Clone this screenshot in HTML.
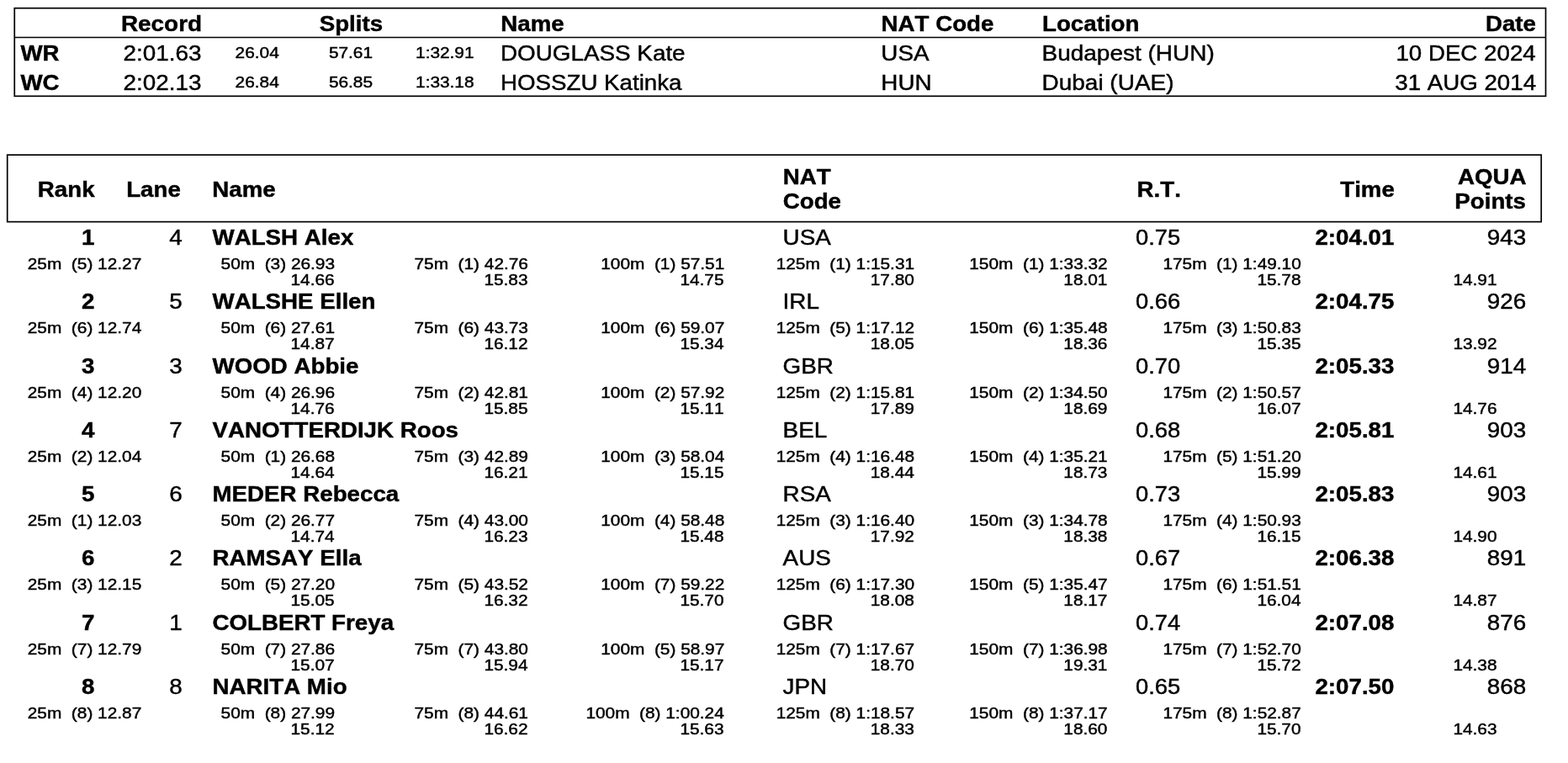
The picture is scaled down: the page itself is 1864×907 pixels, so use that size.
<!DOCTYPE html>
<html lang="en">
<head>
<meta charset="utf-8">
<title>Results</title>
<style>
html,body{margin:0;padding:0;background:#fff}
body{width:1864px;height:907px;position:relative;overflow:hidden;font-family:"Liberation Sans",sans-serif;color:#000}
section{position:absolute;left:0;top:0;width:1864px;height:907px}
.t{position:absolute;white-space:pre;line-height:1;margin:0;padding:0;font-kerning:none;font-variant-ligatures:none;transform-origin:0 0}
.r{transform-origin:100% 0}
.rules{position:absolute;left:0;top:0;display:block}
.hb{font-size:25.2px;font-weight:700;-webkit-text-stroke:0.42px #000}
.b{font-size:25.2px;font-weight:700;-webkit-text-stroke:0.42px #000}
.n{font-size:25.0px;font-weight:400;-webkit-text-stroke:0.42px #000}
.m{font-size:18.6px;font-weight:400;-webkit-text-stroke:0.45px #000}
.s{font-size:18.6px;font-weight:400;-webkit-text-stroke:0.45px #000}
</style>
</head>
<body>
<section class="records">
<svg class="rules" width="1864" height="130" viewBox="0 0 1864 130" aria-hidden="true"><rect x="17.25" y="9.7" width="1820.25" height="104.6" fill="none" stroke="#000" stroke-width="1.7"/><line x1="17.25" y1="44.5" x2="1837.5" y2="44.5" stroke="#000" stroke-width="1.5"/></svg>
<span class="t hb r" style="right:1623px;top:16px;transform:translateX(-0.70px) scaleX(1.108)">Record</span>
<span class="t hb" style="left:379px;top:16px;transform:translateX(0.70px) scaleX(1.1)">Splits</span>
<span class="t hb" style="left:595px;top:16px;transform:translateX(0.30px) scaleX(1.1)">Name</span>
<span class="t hb" style="left:1047px;top:16px;transform:translateX(0.50px) scaleX(1.1)">NAT Code</span>
<span class="t hb" style="left:1239px;top:16px;transform:translateX(0.00px) scaleX(1.1)">Location</span>
<span class="t hb r" style="right:37px;top:16px;transform:translateX(-0.60px) scaleX(1.1)">Date</span>
<div class="rec">
<span class="t b" style="left:24px;top:51px;transform:translateX(0.40px) scaleX(1.1)">WR</span>
<span class="t n r" style="right:1625px;top:51px;transform:translateX(-0.00px) scaleX(1.113)">2:01.63</span>
<span class="t m r" style="right:1531px;top:54px;transform:translateX(-0.80px) scaleX(1.12)">26.04</span>
<span class="t m r" style="right:1420px;top:54px;transform:translateX(-0.50px) scaleX(1.12)">57.61</span>
<span class="t m r" style="right:1300px;top:54px;transform:translateX(-0.50px) scaleX(1.12)">1:32.91</span>
<span class="t n" style="left:595px;top:51px;transform:translateX(0.00px) scaleX(1.113)">DOUGLASS Kate</span>
<span class="t n" style="left:1047px;top:51px;transform:translateX(0.30px) scaleX(1.113)">USA</span>
<span class="t n" style="left:1238px;top:51px;transform:translateX(0.50px) scaleX(1.119)">Budapest (HUN)</span>
<span class="t n r" style="right:38px;top:51px;transform:translateX(-0.40px) scaleX(1.108)">10 DEC 2024</span>
</div>
<div class="rec">
<span class="t b" style="left:24px;top:86px;transform:translateX(0.40px) scaleX(1.1)">WC</span>
<span class="t n r" style="right:1625px;top:86px;transform:translateX(-0.00px) scaleX(1.113)">2:02.13</span>
<span class="t m r" style="right:1531px;top:89px;transform:translateX(-0.80px) scaleX(1.12)">26.84</span>
<span class="t m r" style="right:1420px;top:89px;transform:translateX(-0.50px) scaleX(1.12)">56.85</span>
<span class="t m r" style="right:1300px;top:89px;transform:translateX(-0.50px) scaleX(1.12)">1:33.18</span>
<span class="t n" style="left:595px;top:86px;transform:translateX(0.00px) scaleX(1.108)">HOSSZU Katinka</span>
<span class="t n" style="left:1047px;top:86px;transform:translateX(0.30px) scaleX(1.113)">HUN</span>
<span class="t n" style="left:1238px;top:86px;transform:translateX(0.50px) scaleX(1.119)">Dubai (UAE)</span>
<span class="t n r" style="right:38px;top:86px;transform:translateX(-0.40px) scaleX(1.108)">31 AUG 2014</span>
</div>
</section>
<section class="results">
<svg class="rules" width="1864" height="280" viewBox="0 0 1864 280" aria-hidden="true"><rect x="8.7" y="184.15" width="1823.5" height="79.5" fill="none" stroke="#000" stroke-width="1.7"/></svg>
<span class="t hb" style="left:44px;top:213px;transform:translateX(0.80px) scaleX(1.1)">Rank</span>
<span class="t hb" style="left:150px;top:213px;transform:translateX(0.20px) scaleX(1.1)">Lane</span>
<span class="t hb" style="left:252px;top:213px;transform:translateX(0.30px) scaleX(1.1)">Name</span>
<span class="t hb" style="left:930px;top:198px;transform:translateX(0.70px) scaleX(1.1)">NAT</span>
<span class="t hb" style="left:930px;top:227px;transform:translateX(0.70px) scaleX(1.1)">Code</span>
<span class="t hb" style="left:1351px;top:213px;transform:translateX(0.60px) scaleX(1.1)">R.T.</span>
<span class="t hb r" style="right:205px;top:213px;transform:translateX(-0.90px) scaleX(1.1)">Time</span>
<span class="t hb r" style="right:49px;top:198px;transform:translateX(-0.70px) scaleX(1.1)">AQUA</span>
<span class="t hb r" style="right:50px;top:227px;transform:translateX(-0.00px) scaleX(1.1)">Points</span>
<div class="row">
<span class="t b r" style="right:1751px;top:270px;transform:translateX(-0.50px) scaleX(1.1)">1</span>
<span class="t n r" style="right:1647px;top:270px;transform:translateX(-0.20px) scaleX(1.113)">4</span>
<span class="t b" style="left:252px;top:270px;transform:translateX(0.50px) scaleX(1.1)">WALSH Alex</span>
<span class="t n" style="left:930px;top:270px;transform:translateX(0.60px) scaleX(1.113)">USA</span>
<span class="t n" style="left:1350px;top:270px;transform:translateX(0.00px) scaleX(1.095)">0.75</span>
<span class="t b r" style="right:207px;top:270px;transform:translateX(-0.00px) scaleX(1.1)">2:04.01</span>
<span class="t n r" style="right:49px;top:270px;transform:translateX(-0.50px) scaleX(1.113)">943</span>
<span class="t s r" style="right:1695px;top:305px;transform:translateX(-0.70px) scaleX(1.12)">25m  (5) 12.27</span>
<span class="t s r" style="right:1465px;top:305px;transform:translateX(-0.90px) scaleX(1.12)">50m  (3) 26.93</span>
<span class="t s r" style="right:1465px;top:324px;transform:translateX(-0.90px) scaleX(1.12)">14.66</span>
<span class="t s r" style="right:1236px;top:305px;transform:translateX(-0.00px) scaleX(1.12)">75m  (1) 42.76</span>
<span class="t s r" style="right:1236px;top:324px;transform:translateX(-0.00px) scaleX(1.12)">15.83</span>
<span class="t s r" style="right:1003px;top:305px;transform:translateX(-0.00px) scaleX(1.12)">100m  (1) 57.51</span>
<span class="t s r" style="right:1003px;top:324px;transform:translateX(-0.00px) scaleX(1.12)">14.75</span>
<span class="t s r" style="right:776px;top:305px;transform:translateX(-0.70px) scaleX(1.12)">125m  (1) 1:15.31</span>
<span class="t s r" style="right:776px;top:324px;transform:translateX(-0.70px) scaleX(1.12)">17.80</span>
<span class="t s r" style="right:547px;top:305px;transform:translateX(-0.10px) scaleX(1.12)">150m  (1) 1:33.32</span>
<span class="t s r" style="right:547px;top:324px;transform:translateX(-0.10px) scaleX(1.12)">18.01</span>
<span class="t s r" style="right:317px;top:305px;transform:translateX(-0.00px) scaleX(1.12)">175m  (1) 1:49.10</span>
<span class="t s r" style="right:317px;top:324px;transform:translateX(-0.00px) scaleX(1.12)">15.78</span>
<span class="t s r" style="right:84px;top:324px;transform:translateX(-0.00px) scaleX(1.12)">14.91</span>
</div>
<div class="row">
<span class="t b r" style="right:1751px;top:346px;transform:translateX(-0.50px) scaleX(1.1)">2</span>
<span class="t n r" style="right:1647px;top:346px;transform:translateX(-0.20px) scaleX(1.113)">5</span>
<span class="t b" style="left:252px;top:346px;transform:translateX(0.50px) scaleX(1.1)">WALSHE Ellen</span>
<span class="t n" style="left:930px;top:346px;transform:translateX(0.60px) scaleX(1.113)">IRL</span>
<span class="t n" style="left:1350px;top:346px;transform:translateX(0.00px) scaleX(1.095)">0.66</span>
<span class="t b r" style="right:207px;top:346px;transform:translateX(-0.00px) scaleX(1.1)">2:04.75</span>
<span class="t n r" style="right:49px;top:346px;transform:translateX(-0.50px) scaleX(1.113)">926</span>
<span class="t s r" style="right:1695px;top:381px;transform:translateX(-0.70px) scaleX(1.12)">25m  (6) 12.74</span>
<span class="t s r" style="right:1465px;top:381px;transform:translateX(-0.90px) scaleX(1.12)">50m  (6) 27.61</span>
<span class="t s r" style="right:1465px;top:400px;transform:translateX(-0.90px) scaleX(1.12)">14.87</span>
<span class="t s r" style="right:1236px;top:381px;transform:translateX(-0.00px) scaleX(1.12)">75m  (6) 43.73</span>
<span class="t s r" style="right:1236px;top:400px;transform:translateX(-0.00px) scaleX(1.12)">16.12</span>
<span class="t s r" style="right:1003px;top:381px;transform:translateX(-0.00px) scaleX(1.12)">100m  (6) 59.07</span>
<span class="t s r" style="right:1003px;top:400px;transform:translateX(-0.00px) scaleX(1.12)">15.34</span>
<span class="t s r" style="right:776px;top:381px;transform:translateX(-0.70px) scaleX(1.12)">125m  (5) 1:17.12</span>
<span class="t s r" style="right:776px;top:400px;transform:translateX(-0.70px) scaleX(1.12)">18.05</span>
<span class="t s r" style="right:547px;top:381px;transform:translateX(-0.10px) scaleX(1.12)">150m  (6) 1:35.48</span>
<span class="t s r" style="right:547px;top:400px;transform:translateX(-0.10px) scaleX(1.12)">18.36</span>
<span class="t s r" style="right:317px;top:381px;transform:translateX(-0.00px) scaleX(1.12)">175m  (3) 1:50.83</span>
<span class="t s r" style="right:317px;top:400px;transform:translateX(-0.00px) scaleX(1.12)">15.35</span>
<span class="t s r" style="right:84px;top:400px;transform:translateX(-0.00px) scaleX(1.12)">13.92</span>
</div>
<div class="row">
<span class="t b r" style="right:1751px;top:423px;transform:translateX(-0.50px) scaleX(1.1)">3</span>
<span class="t n r" style="right:1647px;top:423px;transform:translateX(-0.20px) scaleX(1.113)">3</span>
<span class="t b" style="left:252px;top:423px;transform:translateX(0.50px) scaleX(1.1)">WOOD Abbie</span>
<span class="t n" style="left:930px;top:423px;transform:translateX(0.60px) scaleX(1.113)">GBR</span>
<span class="t n" style="left:1350px;top:423px;transform:translateX(0.00px) scaleX(1.095)">0.70</span>
<span class="t b r" style="right:207px;top:423px;transform:translateX(-0.00px) scaleX(1.1)">2:05.33</span>
<span class="t n r" style="right:49px;top:423px;transform:translateX(-0.50px) scaleX(1.113)">914</span>
<span class="t s r" style="right:1695px;top:458px;transform:translateX(-0.70px) scaleX(1.12)">25m  (4) 12.20</span>
<span class="t s r" style="right:1465px;top:458px;transform:translateX(-0.90px) scaleX(1.12)">50m  (4) 26.96</span>
<span class="t s r" style="right:1465px;top:477px;transform:translateX(-0.90px) scaleX(1.12)">14.76</span>
<span class="t s r" style="right:1236px;top:458px;transform:translateX(-0.00px) scaleX(1.12)">75m  (2) 42.81</span>
<span class="t s r" style="right:1236px;top:477px;transform:translateX(-0.00px) scaleX(1.12)">15.85</span>
<span class="t s r" style="right:1003px;top:458px;transform:translateX(-0.00px) scaleX(1.12)">100m  (2) 57.92</span>
<span class="t s r" style="right:1003px;top:477px;transform:translateX(-0.00px) scaleX(1.12)">15.11</span>
<span class="t s r" style="right:776px;top:458px;transform:translateX(-0.70px) scaleX(1.12)">125m  (2) 1:15.81</span>
<span class="t s r" style="right:776px;top:477px;transform:translateX(-0.70px) scaleX(1.12)">17.89</span>
<span class="t s r" style="right:547px;top:458px;transform:translateX(-0.10px) scaleX(1.12)">150m  (2) 1:34.50</span>
<span class="t s r" style="right:547px;top:477px;transform:translateX(-0.10px) scaleX(1.12)">18.69</span>
<span class="t s r" style="right:317px;top:458px;transform:translateX(-0.00px) scaleX(1.12)">175m  (2) 1:50.57</span>
<span class="t s r" style="right:317px;top:477px;transform:translateX(-0.00px) scaleX(1.12)">16.07</span>
<span class="t s r" style="right:84px;top:477px;transform:translateX(-0.00px) scaleX(1.12)">14.76</span>
</div>
<div class="row">
<span class="t b r" style="right:1751px;top:499px;transform:translateX(-0.50px) scaleX(1.1)">4</span>
<span class="t n r" style="right:1647px;top:499px;transform:translateX(-0.20px) scaleX(1.113)">7</span>
<span class="t b" style="left:252px;top:499px;transform:translateX(0.50px) scaleX(1.1)">VANOTTERDIJK Roos</span>
<span class="t n" style="left:930px;top:499px;transform:translateX(0.60px) scaleX(1.113)">BEL</span>
<span class="t n" style="left:1350px;top:499px;transform:translateX(0.00px) scaleX(1.095)">0.68</span>
<span class="t b r" style="right:207px;top:499px;transform:translateX(-0.00px) scaleX(1.1)">2:05.81</span>
<span class="t n r" style="right:49px;top:499px;transform:translateX(-0.50px) scaleX(1.113)">903</span>
<span class="t s r" style="right:1695px;top:534px;transform:translateX(-0.70px) scaleX(1.12)">25m  (2) 12.04</span>
<span class="t s r" style="right:1465px;top:534px;transform:translateX(-0.90px) scaleX(1.12)">50m  (1) 26.68</span>
<span class="t s r" style="right:1465px;top:553px;transform:translateX(-0.90px) scaleX(1.12)">14.64</span>
<span class="t s r" style="right:1236px;top:534px;transform:translateX(-0.00px) scaleX(1.12)">75m  (3) 42.89</span>
<span class="t s r" style="right:1236px;top:553px;transform:translateX(-0.00px) scaleX(1.12)">16.21</span>
<span class="t s r" style="right:1003px;top:534px;transform:translateX(-0.00px) scaleX(1.12)">100m  (3) 58.04</span>
<span class="t s r" style="right:1003px;top:553px;transform:translateX(-0.00px) scaleX(1.12)">15.15</span>
<span class="t s r" style="right:776px;top:534px;transform:translateX(-0.70px) scaleX(1.12)">125m  (4) 1:16.48</span>
<span class="t s r" style="right:776px;top:553px;transform:translateX(-0.70px) scaleX(1.12)">18.44</span>
<span class="t s r" style="right:547px;top:534px;transform:translateX(-0.10px) scaleX(1.12)">150m  (4) 1:35.21</span>
<span class="t s r" style="right:547px;top:553px;transform:translateX(-0.10px) scaleX(1.12)">18.73</span>
<span class="t s r" style="right:317px;top:534px;transform:translateX(-0.00px) scaleX(1.12)">175m  (5) 1:51.20</span>
<span class="t s r" style="right:317px;top:553px;transform:translateX(-0.00px) scaleX(1.12)">15.99</span>
<span class="t s r" style="right:84px;top:553px;transform:translateX(-0.00px) scaleX(1.12)">14.61</span>
</div>
<div class="row">
<span class="t b r" style="right:1751px;top:575px;transform:translateX(-0.50px) scaleX(1.1)">5</span>
<span class="t n r" style="right:1647px;top:575px;transform:translateX(-0.20px) scaleX(1.113)">6</span>
<span class="t b" style="left:252px;top:575px;transform:translateX(0.50px) scaleX(1.1)">MEDER Rebecca</span>
<span class="t n" style="left:930px;top:575px;transform:translateX(0.60px) scaleX(1.113)">RSA</span>
<span class="t n" style="left:1350px;top:575px;transform:translateX(0.00px) scaleX(1.095)">0.73</span>
<span class="t b r" style="right:207px;top:575px;transform:translateX(-0.00px) scaleX(1.1)">2:05.83</span>
<span class="t n r" style="right:49px;top:575px;transform:translateX(-0.50px) scaleX(1.113)">903</span>
<span class="t s r" style="right:1695px;top:610px;transform:translateX(-0.70px) scaleX(1.12)">25m  (1) 12.03</span>
<span class="t s r" style="right:1465px;top:610px;transform:translateX(-0.90px) scaleX(1.12)">50m  (2) 26.77</span>
<span class="t s r" style="right:1465px;top:629px;transform:translateX(-0.90px) scaleX(1.12)">14.74</span>
<span class="t s r" style="right:1236px;top:610px;transform:translateX(-0.00px) scaleX(1.12)">75m  (4) 43.00</span>
<span class="t s r" style="right:1236px;top:629px;transform:translateX(-0.00px) scaleX(1.12)">16.23</span>
<span class="t s r" style="right:1003px;top:610px;transform:translateX(-0.00px) scaleX(1.12)">100m  (4) 58.48</span>
<span class="t s r" style="right:1003px;top:629px;transform:translateX(-0.00px) scaleX(1.12)">15.48</span>
<span class="t s r" style="right:776px;top:610px;transform:translateX(-0.70px) scaleX(1.12)">125m  (3) 1:16.40</span>
<span class="t s r" style="right:776px;top:629px;transform:translateX(-0.70px) scaleX(1.12)">17.92</span>
<span class="t s r" style="right:547px;top:610px;transform:translateX(-0.10px) scaleX(1.12)">150m  (3) 1:34.78</span>
<span class="t s r" style="right:547px;top:629px;transform:translateX(-0.10px) scaleX(1.12)">18.38</span>
<span class="t s r" style="right:317px;top:610px;transform:translateX(-0.00px) scaleX(1.12)">175m  (4) 1:50.93</span>
<span class="t s r" style="right:317px;top:629px;transform:translateX(-0.00px) scaleX(1.12)">16.15</span>
<span class="t s r" style="right:84px;top:629px;transform:translateX(-0.00px) scaleX(1.12)">14.90</span>
</div>
<div class="row">
<span class="t b r" style="right:1751px;top:651px;transform:translateX(-0.50px) scaleX(1.1)">6</span>
<span class="t n r" style="right:1647px;top:651px;transform:translateX(-0.20px) scaleX(1.113)">2</span>
<span class="t b" style="left:252px;top:651px;transform:translateX(0.50px) scaleX(1.1)">RAMSAY Ella</span>
<span class="t n" style="left:930px;top:651px;transform:translateX(0.60px) scaleX(1.113)">AUS</span>
<span class="t n" style="left:1350px;top:651px;transform:translateX(0.00px) scaleX(1.095)">0.67</span>
<span class="t b r" style="right:207px;top:651px;transform:translateX(-0.00px) scaleX(1.1)">2:06.38</span>
<span class="t n r" style="right:49px;top:651px;transform:translateX(-0.50px) scaleX(1.113)">891</span>
<span class="t s r" style="right:1695px;top:686px;transform:translateX(-0.70px) scaleX(1.12)">25m  (3) 12.15</span>
<span class="t s r" style="right:1465px;top:686px;transform:translateX(-0.90px) scaleX(1.12)">50m  (5) 27.20</span>
<span class="t s r" style="right:1465px;top:705px;transform:translateX(-0.90px) scaleX(1.12)">15.05</span>
<span class="t s r" style="right:1236px;top:686px;transform:translateX(-0.00px) scaleX(1.12)">75m  (5) 43.52</span>
<span class="t s r" style="right:1236px;top:705px;transform:translateX(-0.00px) scaleX(1.12)">16.32</span>
<span class="t s r" style="right:1003px;top:686px;transform:translateX(-0.00px) scaleX(1.12)">100m  (7) 59.22</span>
<span class="t s r" style="right:1003px;top:705px;transform:translateX(-0.00px) scaleX(1.12)">15.70</span>
<span class="t s r" style="right:776px;top:686px;transform:translateX(-0.70px) scaleX(1.12)">125m  (6) 1:17.30</span>
<span class="t s r" style="right:776px;top:705px;transform:translateX(-0.70px) scaleX(1.12)">18.08</span>
<span class="t s r" style="right:547px;top:686px;transform:translateX(-0.10px) scaleX(1.12)">150m  (5) 1:35.47</span>
<span class="t s r" style="right:547px;top:705px;transform:translateX(-0.10px) scaleX(1.12)">18.17</span>
<span class="t s r" style="right:317px;top:686px;transform:translateX(-0.00px) scaleX(1.12)">175m  (6) 1:51.51</span>
<span class="t s r" style="right:317px;top:705px;transform:translateX(-0.00px) scaleX(1.12)">16.04</span>
<span class="t s r" style="right:84px;top:705px;transform:translateX(-0.00px) scaleX(1.12)">14.87</span>
</div>
<div class="row">
<span class="t b r" style="right:1751px;top:728px;transform:translateX(-0.50px) scaleX(1.1)">7</span>
<span class="t n r" style="right:1647px;top:728px;transform:translateX(-0.20px) scaleX(1.113)">1</span>
<span class="t b" style="left:252px;top:728px;transform:translateX(0.50px) scaleX(1.1)">COLBERT Freya</span>
<span class="t n" style="left:930px;top:728px;transform:translateX(0.60px) scaleX(1.113)">GBR</span>
<span class="t n" style="left:1350px;top:728px;transform:translateX(0.00px) scaleX(1.095)">0.74</span>
<span class="t b r" style="right:207px;top:728px;transform:translateX(-0.00px) scaleX(1.1)">2:07.08</span>
<span class="t n r" style="right:49px;top:728px;transform:translateX(-0.50px) scaleX(1.113)">876</span>
<span class="t s r" style="right:1695px;top:763px;transform:translateX(-0.70px) scaleX(1.12)">25m  (7) 12.79</span>
<span class="t s r" style="right:1465px;top:763px;transform:translateX(-0.90px) scaleX(1.12)">50m  (7) 27.86</span>
<span class="t s r" style="right:1465px;top:782px;transform:translateX(-0.90px) scaleX(1.12)">15.07</span>
<span class="t s r" style="right:1236px;top:763px;transform:translateX(-0.00px) scaleX(1.12)">75m  (7) 43.80</span>
<span class="t s r" style="right:1236px;top:782px;transform:translateX(-0.00px) scaleX(1.12)">15.94</span>
<span class="t s r" style="right:1003px;top:763px;transform:translateX(-0.00px) scaleX(1.12)">100m  (5) 58.97</span>
<span class="t s r" style="right:1003px;top:782px;transform:translateX(-0.00px) scaleX(1.12)">15.17</span>
<span class="t s r" style="right:776px;top:763px;transform:translateX(-0.70px) scaleX(1.12)">125m  (7) 1:17.67</span>
<span class="t s r" style="right:776px;top:782px;transform:translateX(-0.70px) scaleX(1.12)">18.70</span>
<span class="t s r" style="right:547px;top:763px;transform:translateX(-0.10px) scaleX(1.12)">150m  (7) 1:36.98</span>
<span class="t s r" style="right:547px;top:782px;transform:translateX(-0.10px) scaleX(1.12)">19.31</span>
<span class="t s r" style="right:317px;top:763px;transform:translateX(-0.00px) scaleX(1.12)">175m  (7) 1:52.70</span>
<span class="t s r" style="right:317px;top:782px;transform:translateX(-0.00px) scaleX(1.12)">15.72</span>
<span class="t s r" style="right:84px;top:782px;transform:translateX(-0.00px) scaleX(1.12)">14.38</span>
</div>
<div class="row">
<span class="t b r" style="right:1751px;top:804px;transform:translateX(-0.50px) scaleX(1.1)">8</span>
<span class="t n r" style="right:1647px;top:804px;transform:translateX(-0.20px) scaleX(1.113)">8</span>
<span class="t b" style="left:252px;top:804px;transform:translateX(0.50px) scaleX(1.1)">NARITA Mio</span>
<span class="t n" style="left:930px;top:804px;transform:translateX(0.60px) scaleX(1.113)">JPN</span>
<span class="t n" style="left:1350px;top:804px;transform:translateX(0.00px) scaleX(1.095)">0.65</span>
<span class="t b r" style="right:207px;top:804px;transform:translateX(-0.00px) scaleX(1.1)">2:07.50</span>
<span class="t n r" style="right:49px;top:804px;transform:translateX(-0.50px) scaleX(1.113)">868</span>
<span class="t s r" style="right:1695px;top:839px;transform:translateX(-0.70px) scaleX(1.12)">25m  (8) 12.87</span>
<span class="t s r" style="right:1465px;top:839px;transform:translateX(-0.90px) scaleX(1.12)">50m  (8) 27.99</span>
<span class="t s r" style="right:1465px;top:858px;transform:translateX(-0.90px) scaleX(1.12)">15.12</span>
<span class="t s r" style="right:1236px;top:839px;transform:translateX(-0.00px) scaleX(1.12)">75m  (8) 44.61</span>
<span class="t s r" style="right:1236px;top:858px;transform:translateX(-0.00px) scaleX(1.12)">16.62</span>
<span class="t s r" style="right:1003px;top:839px;transform:translateX(-0.00px) scaleX(1.12)">100m  (8) 1:00.24</span>
<span class="t s r" style="right:1003px;top:858px;transform:translateX(-0.00px) scaleX(1.12)">15.63</span>
<span class="t s r" style="right:776px;top:839px;transform:translateX(-0.70px) scaleX(1.12)">125m  (8) 1:18.57</span>
<span class="t s r" style="right:776px;top:858px;transform:translateX(-0.70px) scaleX(1.12)">18.33</span>
<span class="t s r" style="right:547px;top:839px;transform:translateX(-0.10px) scaleX(1.12)">150m  (8) 1:37.17</span>
<span class="t s r" style="right:547px;top:858px;transform:translateX(-0.10px) scaleX(1.12)">18.60</span>
<span class="t s r" style="right:317px;top:839px;transform:translateX(-0.00px) scaleX(1.12)">175m  (8) 1:52.87</span>
<span class="t s r" style="right:317px;top:858px;transform:translateX(-0.00px) scaleX(1.12)">15.70</span>
<span class="t s r" style="right:84px;top:858px;transform:translateX(-0.00px) scaleX(1.12)">14.63</span>
</div>
</section>
</body>
</html>
